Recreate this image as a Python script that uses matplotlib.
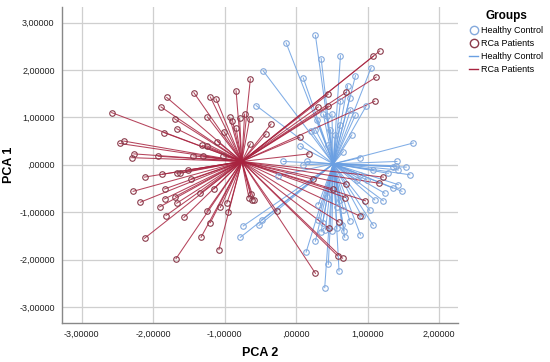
import matplotlib
matplotlib.use("Agg")
import matplotlib.pyplot as plt
from matplotlib.lines import Line2D
from matplotlib.ticker import FuncFormatter

plt.rcParams['font.family'] = ['Liberation Sans', 'DejaVu Sans']

# Group centroids (PCA 2, PCA 1)
hc_center = (0.52, 0.02)
rc_center = (-0.76, 0.07)

# Healthy Control points
hc_x = [0.27, -0.14, -0.46, 0.62, 0.35, 0.10, 1.05, 0.83, 0.72, 0.75, 0.62, 0.83, 0.98,
        0.50, 0.43, 0.38, 0.61, 0.78, 0.66, 0.21, 0.06, 0.90, -0.18, 0.10, -0.56, 1.64,
        1.41, 1.54, 1.36, 1.59, 1.29, 1.40, 1.43, 1.43, 1.48, 1.35, 1.24, 1.10, 1.22,
        1.03, 1.08, 0.90, 0.75, 0.64, 0.67, 0.68, 0.57, 0.41, 0.35, 0.50, 0.27, 0.14,
        0.45, 0.60, 0.40, 0.31, 0.31, 0.37, -0.48, 0.92, -0.74, -0.78, -0.52, 0.15,
        -0.25, 0.48, 0.76, 0.55, 0.45, 0.27, 0.29, 0.62, 0.57, 0.66, 0.43, 0.85, 0.99,
        1.08, 0.90]
hc_y = [2.73, 2.57, 1.98, 2.30, 2.24, 1.83, 2.05, 1.88, 1.67, 1.41, 1.34, 1.05, 1.24,
        1.07, 1.02, 1.07, 0.84, 0.63, 0.28, 0.72, 0.39, 0.15, 0.07, 0.00, 1.25, 0.46,
        0.07, -0.05, -0.04, -0.21, -0.18, -0.02, -0.11, -0.42, -0.56, -0.49, -0.60, -0.74,
        -0.76, -0.96, -1.28, -1.48, -1.18, -1.27, -1.39, -1.53, -1.34, -1.37, -1.41,
        -1.39, -1.61, -1.84, -2.10, -2.24, -2.59, -0.84, -1.16, -1.23, -1.16, -1.09,
        -1.29, -1.53, -1.28, 0.07, -0.23, 0.74, 1.16, 0.63, 0.42, 0.74, 0.95, -0.74,
        -0.88, -0.95, -0.67, -0.32, -0.32, -0.11, -0.21]

# RCa Patients points
rc_x = [-2.58, -1.81, -1.43, -1.20, -1.12, -1.89, -1.70, -1.24, -1.67, -1.85, -1.10,
        -2.41, -2.47, -1.31, -1.25, -2.27, -2.30, -1.93, -1.01, -0.93, -0.64, -0.84,
        -0.79, -0.65, -0.72, -0.89, -0.84, -0.64, -1.44, -1.30, -2.12, -1.87, -1.67,
        -1.62, -1.51, -2.28, -2.18, -1.84, -1.84, -1.91, -1.69, -1.67, -1.47, -1.82,
        -1.57, -1.34, -1.15, -1.25, -1.06, -0.95, -0.97, -1.20, -1.33, -2.12, -1.68,
        -1.08, -0.66, -0.62, -0.59, -0.63, 1.17, 1.08, 1.12, 1.10, -0.35, -0.42, 0.70,
        0.45, 0.31, 0.45, 0.05, 0.18, -1.02, -0.27, 0.23, 0.51, 0.69, 0.89, 0.97, 1.16,
        1.22, 0.60, 0.46, 0.58, 0.65, 0.27, 0.70]
rc_y = [1.10, 1.42, 1.52, 1.43, 1.39, 1.22, 0.97, 1.01, 0.76, 0.68, 0.49, 0.50, 0.45,
        0.41, 0.40, 0.23, 0.15, 0.18, 0.70, 1.00, 1.81, 1.56, 0.98, 0.97, 1.07, 0.93,
        0.77, 0.44, 0.19, 0.18, -0.26, -0.20, -0.18, -0.18, -0.11, -0.56, -0.79, -0.51,
        -0.72, -0.89, -0.67, -0.81, -0.30, -1.07, -1.11, -0.60, -0.51, -0.98, -0.90,
        -1.00, -0.81, -1.22, -1.53, -1.55, -1.98, -1.79, -0.70, -0.74, -0.74, -0.62,
        2.40, 2.29, 1.85, 1.34, 0.86, 0.65, 1.53, 1.49, 1.22, 1.24, 0.58, 0.23, 0.19,
        -0.98, -0.30, -0.51, -0.69, -1.08, -0.76, -0.39, -0.26, -1.21, -1.34, -1.92,
        -1.97, -2.29, -0.41]

group_labels = ["Healthy Control", "RCa Patients"]
x_ticks = [-3, -2, -1, 0, 1, 2]
y_ticks = [-3, -2, -1, 0, 1, 2, 3]

blue_line = '#6a9fe2'
blue_mark = '#84a9dc'
red_line = '#a8233f'
red_mark = '#8a3b4b'

fig = plt.figure(figsize=(5.5, 3.62), dpi=100)
ax = fig.add_axes([0.112, 0.1086, 0.721, 0.8724])

for x, y in zip(hc_x, hc_y):
    ax.plot([hc_center[0], x], [hc_center[1], y], color=blue_line, lw=0.75, alpha=0.85, zorder=2)
for x, y in zip(rc_x, rc_y):
    ax.plot([rc_center[0], x], [rc_center[1], y], color=red_line, lw=0.75, alpha=0.85, zorder=3)

ax.plot(hc_x, hc_y, ls='none', marker='o', ms=4, mfc='none', mec=blue_mark, mew=0.8, zorder=4)
ax.plot(rc_x, rc_y, ls='none', marker='o', ms=4, mfc='none', mec=red_mark, mew=0.8, zorder=5)

ax.set_xlim(-3.28, 2.266)
ax.set_ylim(-3.33, 3.33)
ax.set_xticks(x_ticks)
ax.set_yticks(y_ticks)


def spss_fmt(v, pos=None):
    s = f"{v:.5f}".replace('.', ',')
    if s.startswith('0,'):
        s = s[1:]
    elif s.startswith('-0,'):
        s = '-' + s[2:]
    return s


ax.xaxis.set_major_formatter(FuncFormatter(spss_fmt))
ax.yaxis.set_major_formatter(FuncFormatter(spss_fmt))
ax.tick_params(length=0, labelsize=6.5, colors='#222222', pad=5)
ax.grid(True, color='#cfcfcf', lw=0.9)
ax.set_axisbelow(True)
for s in ['top', 'right']:
    ax.spines[s].set_visible(False)
for s in ['left', 'bottom']:
    ax.spines[s].set_color('#888888')
    ax.spines[s].set_linewidth(1.0)

ax.set_xlabel('PCA 2', fontsize=9, fontweight='bold', labelpad=6)
ax.set_ylabel('PCA 1', fontsize=9, fontweight='bold', labelpad=3)

handles = [
    Line2D([], [], ls='none', marker='o', ms=6, mfc='none', mec=blue_mark, mew=1.0),
    Line2D([], [], ls='none', marker='o', ms=6, mfc='none', mec=red_mark, mew=1.0),
    Line2D([], [], color=blue_line, lw=1.0),
    Line2D([], [], color=red_line, lw=1.0),
]
labels = group_labels + group_labels
leg = fig.legend(handles, labels, loc='upper left', bbox_to_anchor=(0.842, 0.99),
                 frameon=False, fontsize=6.5, title='Groups', handlelength=1.0,
                 handletextpad=0.3, labelspacing=0.45, borderpad=0.2)
leg.get_title().set_fontweight('bold')
leg.get_title().set_fontsize(8.5)

fig.savefig('out.png', dpi=100)
